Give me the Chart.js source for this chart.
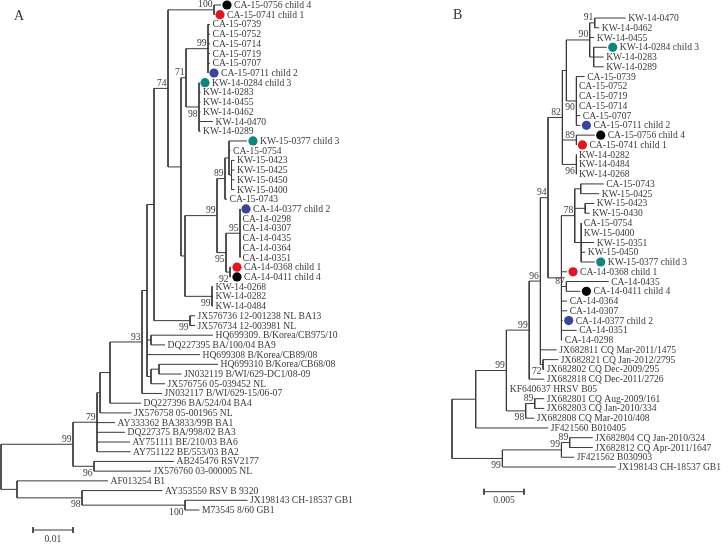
<!DOCTYPE html>
<html>
<head>
<meta charset="utf-8">
<script src="https://cdn.jsdelivr.net/npm/chart.js@4.4.1/dist/chart.umd.min.js"></script>
<style>
  html, body { margin: 0; padding: 0; background: #fff; }
  #wrap { position: relative; width: 728px; height: 544px; }
  canvas { position: absolute; top: 0; }
  #treeA { left: 0; }
  #treeB { left: 440px; }
</style>
</head>
<body>
<div id="wrap">
  <canvas id="treeA" width="440" height="544"></canvas>
  <canvas id="treeB" width="288" height="544"></canvas>
</div>
<script>
// ---- panel A: taxa (top to bottom), tip depth, parent node ----
const tipNamesA = [
  'CA-15-0756 child 4', 'CA-15-0741 child 1', 'CA-15-0739', 'CA-15-0752', 'CA-15-0714', 'CA-15-0719',
  'CA-15-0707', 'CA-15-0711 child 2', 'KW-14-0284 child 3', 'KW-14-0283', 'KW-14-0455', 'KW-14-0462',
  'KW-14-0470', 'KW-14-0289', 'KW-15-0377 child 3', 'CA-15-0754', 'KW-15-0423', 'KW-15-0425',
  'KW-15-0450', 'KW-15-0400', 'CA-15-0743', 'CA-14-0377 child 2', 'CA-14-0298', 'CA-14-0307',
  'CA-14-0435', 'CA-14-0364', 'CA-14-0351', 'CA-14-0368 child 1', 'CA-14-0411 child 4', 'KW-14-0268',
  'KW-14-0282', 'KW-14-0484', 'JX576736 12-001238 NL BA13', 'JX576734 12-003981 NL',
  'HQ699309. B/Korea/CB975/10', 'DQ227395 BA/100/04 BA9', 'HQ699308 B/Korea/CB89/08',
  'HQ699310 B/Korea/CB68/08', 'JN032119 B/WI/629-DC1/08-09', 'JX576756 05-039452 NL',
  'JN032117 B/WI/629-15/06-07', 'DQ227396 BA/524/04 BA4', 'JX576758 05-001965 NL',
  'AY333362 BA3833/99B BA1', 'DQ227375 BA/998/02 BA3', 'AY751111 BE/210/03 BA6',
  'AY751122 BE/553/03 BA2', 'AB245476 RSV2177', 'JX576760 03-000005 NL', 'AF013254 B1',
  'AY353550 RSV B 9320', 'JX198143 CH-18537 GB1', 'M73545 8/60 GB1'
];
const tipDepthA = [
  0.055, 0.05325, 0.05225, 0.05225, 0.05225, 0.05225, 0.05225, 0.05175, 0.0495, 0.04988,
  0.04988, 0.04988, 0.053, 0.04988, 0.0615, 0.05738, 0.05838, 0.05838, 0.05838, 0.05838,
  0.0565, 0.05975, 0.05975, 0.05975, 0.05975, 0.05975, 0.05975, 0.0575, 0.0575, 0.053,
  0.053, 0.053, 0.0485, 0.0485, 0.053, 0.041, 0.04975, 0.05425, 0.04513, 0.041,
  0.04025, 0.035, 0.03263, 0.0285, 0.031, 0.03225, 0.03238, 0.04325, 0.0375, 0.02675,
  0.04038, 0.06163, 0.04963
];
const tipParentA = [
  9, 9, 12, 12, 12, 12, 12, 12, 13, 13, 13, 13, 13, 13, 17, 17, 18, 18, 18, 18, 16,
  20, 20, 20, 20, 20, 20, 21, 21, 22, 22, 22, 23, 23, 24, 24, 6, 26, 26, 25, 5, 4, 3,
  2, 2, 2, 2, 27, 27, 28, 29, 30, 30
];
// internal nodes: depth, parent, bootstrap
const nodeDepthA = [
  0, 0.018, 0.024, 0.02475, 0.02725, 0.03525, 0.0365, 0.03825, 0.04175, 0.05325, 0.045,
  0.04625, 0.05175, 0.0495, 0.046, 0.054, 0.056, 0.057, 0.05763, 0.05625, 0.05975, 0.05725,
  0.05275, 0.04725, 0.0375, 0.0375, 0.0395, 0.02325, 0.004, 0.02025, 0.046
];
const nodeParentA = [-1, 0, 1, 2, 3, 4, 5, 6, 7, 8, 8, 10, 11, 11, 10, 14, 15, 16, 17, 15, 19, 19, 14, 7, 6, 6, 25, 1, 0, 28, 29];
const nodeSupportA = [null, 99, 79, null, null, 93, null, null, 74, 100, null, 71, 99, 98, null, 99, 89, null, null, 95, 95, 92, 99, 99, null, null, null, 96, null, 98, 100];
const scaleBarA = [0.008, 0.01];

// ---- panel B ----
const tipNamesB = [
  'KW-14-0470', 'KW-14-0462', 'KW-14-0455', 'KW-14-0284 child 3', 'KW-14-0283', 'KW-14-0289',
  'CA-15-0739', 'CA-15-0752', 'CA-15-0719', 'CA-15-0714', 'CA-15-0707', 'CA-15-0711 child 2',
  'CA-15-0756 child 4', 'CA-15-0741 child 1', 'KW-14-0282', 'KW-14-0484', 'KW-14-0268',
  'CA-15-0743', 'KW-15-0425', 'KW-15-0423', 'KW-15-0430', 'CA-15-0754', 'KW-15-0400',
  'KW-15-0351', 'KW-15-0450', 'KW-15-0377 child 3', 'CA-14-0368 child 1', 'CA-14-0435',
  'CA-14-0411 child 4', 'CA-14-0364', 'CA-14-0307', 'CA-14-0377 child 2', 'CA-14-0351',
  'CA-14-0298', 'JX682811 CQ Mar-2011/1475', 'JX682821 CQ Jan-2012/2795',
  'JX682802 CQ Dec-2009/295', 'JX682818 CQ Dec-2011/2726', 'KF640637 HRSV B05',
  'JX682801 CQ Aug-2009/161', 'JX682803 CQ Jan-2010/334', 'JX682808 CQ Mar-2010/408',
  'JF421560 B010405', 'JX682804 CQ Jan-2010/324', 'JX682812 CQ Apr-2011/1647',
  'JF421562 B030903', 'JX198143 CH-18537 GB1'
];
const tipDepthB = [
  0.02171, 0.0184, 0.01778, 0.01934, 0.01896, 0.01896, 0.01659, 0.01555, 0.01555, 0.01555,
  0.01603, 0.01605, 0.01784, 0.01555, 0.01555, 0.01555, 0.01555, 0.01896, 0.0184, 0.01778,
  0.01721, 0.01615, 0.01615, 0.01778, 0.01665, 0.01784, 0.01438, 0.01959, 0.01605, 0.0144,
  0.0144, 0.01384, 0.01559, 0.01378, 0.01309, 0.01328, 0.01153, 0.01153, 0.0069, 0.01153,
  0.01153, 0.01028, 0.01203, 0.01759, 0.01759, 0.01528, 0.02046
];
const tipParentB = [
  9, 9, 8, 10, 10, 10, 11, 11, 11, 11, 11, 11, 12, 12, 13, 13, 13, 16, 16, 17, 17,
  18, 18, 18, 18, 18, 14, 19, 19, 14, 14, 14, 14, 14, 4, 20, 20, 3, 2, 22, 22, 21, 1,
  25, 25, 24, 23
];
const nodeDepthB = [
  0, 0.00296, 0.0068, 0.00965, 0.01105, 0.012, 0.0138, 0.0143, 0.01721, 0.01784, 0.01771,
  0.01555, 0.01555, 0.01555, 0.01368, 0.01534, 0.01609, 0.01665, 0.01615, 0.0143, 0.01138,
  0.00921, 0.01034, 0.0063, 0.01368, 0.01471
];
const nodeParentB = [-1, 0, 1, 2, 3, 4, 5, 6, 7, 8, 8, 7, 6, 6, 5, 14, 15, 15, 15, 14, 4, 2, 21, 0, 23, 24];
const nodeSupportB = [null, null, 99, 99, 96, 94, 82, null, 90, 91, null, 90, 89, 96, null, 78, null, null, null, 87, 72, 98, 89, 99, 99, 89];
const scaleBarB = [0.004, 0.005];

const childColors = { '1': '#e3151d', '2': '#3d4599', '3': '#0e8580', '4': '#050505' };
const lineColor = '#3a3a3a';
const textColor = '#3c3c3c';
const labelFont = "9.6px 'Liberation Serif', serif";

// rectangular (elbow) layout: tips on rows, nodes at the middle of their children
function layoutTree(tipDepth, tipParent, nodeDepth, nodeParent) {
    const kids = nodeDepth.map(() => []);
    tipParent.forEach((p, i) => kids[p].push({ tip: i }));
    nodeParent.forEach((p, k) => { if (p >= 0) kids[p].push({ node: k }); });
    const nodeY = [];
    const posOf = c => c.tip !== undefined
        ? { x: tipDepth[c.tip], y: c.tip }
        : { x: nodeDepth[c.node], y: yOfNode(c.node) };
    function yOfNode(k) {
        if (nodeY[k] === undefined) {
            const ys = kids[k].map(c => posOf(c).y);
            nodeY[k] = (Math.min(...ys) + Math.max(...ys)) / 2;
        }
        return nodeY[k];
    }
    const segs = [];
    nodeDepth.forEach((d, k) => {
        const ps = kids[k].map(posOf);
        const ys = ps.map(p => p.y);
        segs.push({ x: d, y: Math.min(...ys) }, { x: d, y: Math.max(...ys) }, { x: null, y: null });
        ps.forEach(p => segs.push({ x: d, y: p.y }, { x: p.x, y: p.y }, { x: null, y: null }));
    });
    // support label goes under the branch for the lowest child
    const below = nodeDepth.map((d, k) => {
        const p = nodeParent[k];
        if (p < 0) return false;
        const ys = kids[p].map(c => posOf(c).y);
        return yOfNode(k) === Math.max(...ys);
    });
    return { segs, nodeY, below };
}

const treeText = {
    id: 'treeText',
    afterDatasetsDraw(chart, args, opts) {
        const { ctx } = chart;
        const x = chart.scales.x, y = chart.scales.y;
        ctx.save();
        ctx.font = labelFont;
        ctx.fillStyle = textColor;
        ctx.textBaseline = 'middle';
        ctx.textAlign = 'left';
        opts.names.forEach((name, i) => {
            const px = x.getPixelForValue(opts.tipDepth[i]);
            const py = y.getPixelForValue(i);
            const m = name.match(/child (\d)/);
            if (m) {
                ctx.beginPath();
                ctx.fillStyle = childColors[m[1]];
                ctx.arc(px + 6, py, 4.6, 0, Math.PI * 2);
                ctx.fill();
                ctx.fillStyle = textColor;
                ctx.fillText(name, px + 13, py + 0.5);
            } else {
                ctx.fillText(name, px + 2.5, py + 0.5);
            }
        });
        ctx.textAlign = 'right';
        opts.support.forEach((s, k) => {
            if (s === null) return;
            const px = x.getPixelForValue(opts.nodeDepth[k]);
            const py = y.getPixelForValue(opts.layout.nodeY[k]);
            ctx.fillText(String(s), px - 1.5, opts.layout.below[k] ? py + 7 : py - 5);
        });
        ctx.textAlign = 'center';
        const bx = x.getPixelForValue(opts.bar[0] + opts.bar[1] / 2);
        const by = y.getPixelForValue(opts.barRow);
        ctx.fillText(opts.barText, bx, by + 9);
        ctx.textAlign = 'left';
        ctx.textBaseline = 'alphabetic';
        ctx.font = "14px 'Liberation Serif', serif";
        ctx.fillStyle = '#333';
        ctx.fillText(opts.letter[0], opts.letter[1], opts.letter[2]);
        ctx.restore();
    }
};

function drawTree(id, names, tipDepth, tipParent, nodeDepth, nodeParent, support, bar, barText, cfg) {
    const lay = layoutTree(tipDepth, tipParent, nodeDepth, nodeParent);
    const barRow = names.length - 1 + cfg.barGap;
    const t = 0.3;
    const barPts = [
        { x: bar[0], y: barRow }, { x: bar[0] + bar[1], y: barRow }, { x: null, y: null },
        { x: bar[0], y: barRow - t }, { x: bar[0], y: barRow + t }, { x: null, y: null },
        { x: bar[0] + bar[1], y: barRow - t }, { x: bar[0] + bar[1], y: barRow + t }
    ];
    new Chart(document.getElementById(id), {
        type: 'scatter',
        data: {
            datasets: [
                { data: lay.segs, showLine: true, borderColor: lineColor, borderWidth: 1, pointRadius: 0, spanGaps: false, clip: false },
                { data: barPts, showLine: true, borderColor: lineColor, borderWidth: 1, pointRadius: 0, spanGaps: false, clip: false }
            ]
        },
        options: {
            responsive: false,
            animation: false,
            events: [],
            layout: { padding: cfg.padding },
            scales: {
                x: { type: 'linear', display: false, min: 0, max: cfg.xMax },
                y: { type: 'linear', display: false, min: 0, max: names.length - 1, reverse: true }
            },
            plugins: {
                legend: { display: false },
                tooltip: { enabled: false },
                treeText: {
                    names, tipDepth, nodeDepth, support, layout: lay,
                    bar, barRow, barText, letter: cfg.letter
                }
            }
        },
        plugins: [treeText]
    });
}

drawTree('treeA', tipNamesA, tipDepthA, tipParentA, nodeDepthA, nodeParentA, nodeSupportA, scaleBarA, '0.01', {
    padding: { left: 1, right: 1, top: 5, bottom: 34 },
    xMax: 0.1095,
    barGap: 2.06,
    letter: ['A', 14, 19.5]
});
drawTree('treeB', tipNamesB, tipDepthB, tipParentB, nodeDepthB, nodeParentB, nodeSupportB, scaleBarB, '0.005', {
    padding: { left: 12, right: 0, top: 18, bottom: 77 },
    xMax: 0.0345,
    barGap: 2.53,
    letter: ['B', 13, 18.5]
});
</script>
</body>
</html>
